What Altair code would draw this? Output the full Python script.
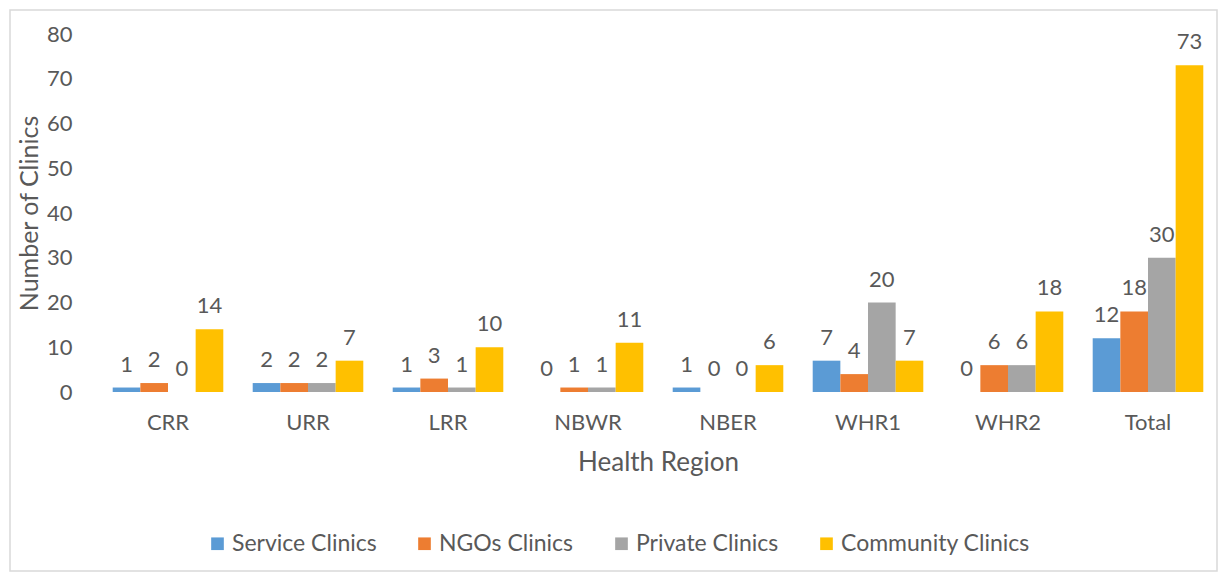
import altair as alt
import pandas as pd

regions = ["CRR", "URR", "LRR", "NBWR", "NBER", "WHR1", "WHR2", "Total"]
series = ["Service Clinics", "NGOs Clinics", "Private Clinics", "Community Clinics"]
service = [1, 2, 1, 0, 1, 7, 0, 12]
ngos = [2, 2, 3, 1, 0, 4, 6, 18]
private = [0, 2, 1, 1, 0, 20, 6, 30]
community = [14, 7, 10, 11, 6, 7, 18, 73]
colors = ["#5B9BD5", "#ED7D31", "#A5A5A5", "#FFC000"]

rows = []
for i, r in enumerate(regions):
    for s, vals in zip(series, [service, ngos, private, community]):
        rows.append({"Region": r, "Type": s, "Count": vals[i]})
df = pd.DataFrame(rows)

FONT = "Lato"
TXT = "#595959"

x = alt.X("Region:N", sort=regions, title="Health Region",
          scale=alt.Scale(paddingInner=0.21, paddingOuter=0.105),
          axis=alt.Axis(labelAngle=0, domain=False, ticks=False, grid=False, labelPadding=20,
                        titlePadding=16, labelFontSize=22, titleFontSize=26,
                        labelColor=TXT, titleColor=TXT, labelFont=FONT, titleFont=FONT,
                        titleFontWeight="normal"))
xo = alt.XOffset("Type:N", sort=series, scale=alt.Scale(paddingInner=0))
y = alt.Y("Count:Q", title="Number of Clinics",
          scale=alt.Scale(domain=[0, 80], nice=False),
          axis=alt.Axis(values=list(range(0, 81, 10)), domain=False, ticks=False, grid=False,
                        labelPadding=26, titlePadding=4, labelFontSize=22, titleFontSize=25,
                        labelColor=TXT, titleColor=TXT, labelFont=FONT, titleFont=FONT,
                        titleFontWeight="normal"))
color = alt.Color("Type:N", sort=series, title=None,
                  scale=alt.Scale(domain=series, range=colors),
                  legend=alt.Legend(orient="none", direction="horizontal", legendX=108, legendY=498,
                                    symbolType="square", symbolSize=160, symbolStrokeWidth=0,
                                    labelFontSize=23, labelFont=FONT, labelColor=TXT,
                                    labelLimit=400, columnPadding=36, labelOffset=3))

base = alt.Chart(df)
bars = base.mark_bar().encode(x=x, xOffset=xo, y=y, color=color)
labels = base.mark_text(baseline="alphabetic", dy=-16, fontSize=22, font=FONT, color=TXT).encode(
    x=x, xOffset=xo, y=y, text="Count:Q")

border = alt.Chart(pd.DataFrame({"a": [0]})).mark_rect(
    fill="transparent", stroke="#D9D9D9", strokeWidth=1.5).encode(
    x=alt.value(-88), x2=alt.value(1119), y=alt.value(-24), y2=alt.value(537))

chart = alt.layer(border, bars, labels).properties(
    width=1120, height=358,
    background="white",
    autosize=alt.AutoSizeParams(type="none"),
    padding={"left": 90, "top": 26, "right": 1, "bottom": 181},
).configure_view(strokeWidth=0)

chart.save("out.html", embed_options={"renderer": "svg", "actions": False})
